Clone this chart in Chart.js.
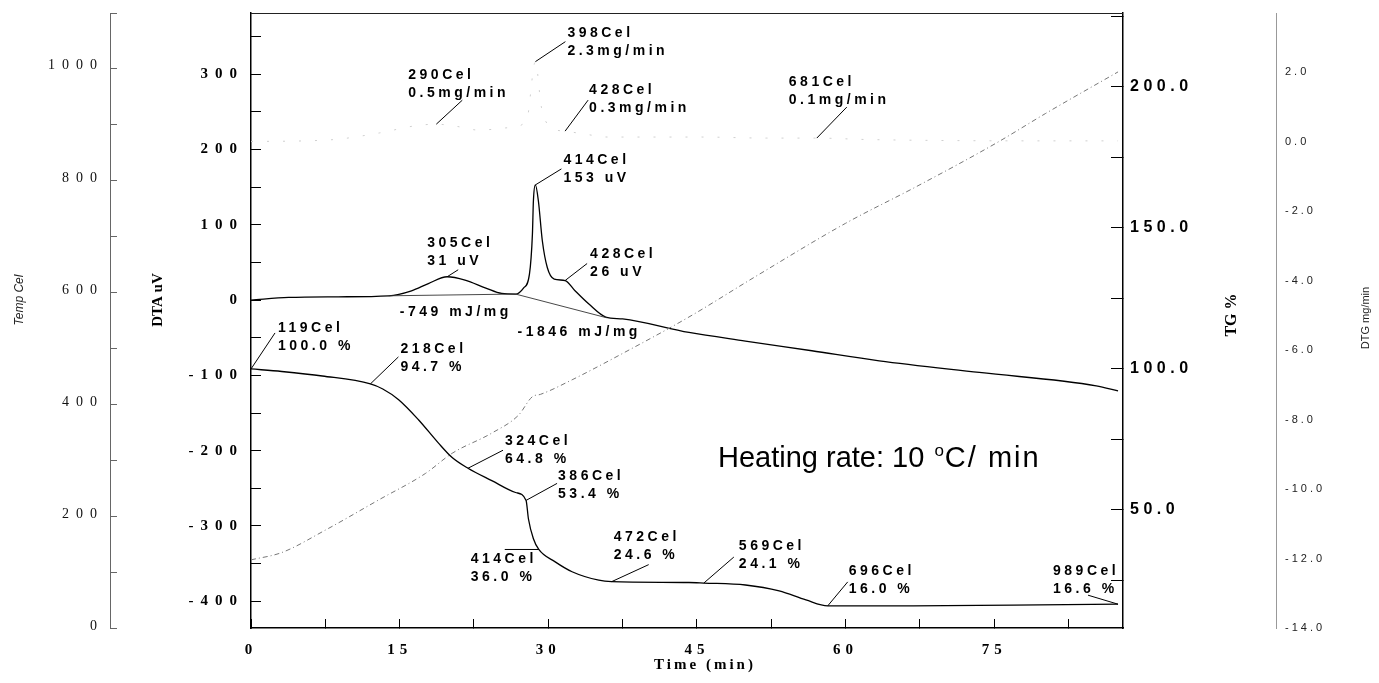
<!DOCTYPE html>
<html>
<head>
<meta charset="utf-8">
<script src="https://cdn.jsdelivr.net/npm/chart.js@4.4.0/dist/chart.umd.min.js"></script>
<style>
  html, body { margin: 0; padding: 0; background: #fff; }
  canvas { display: block; }
</style>
</head>
<body>
<canvas id="c" width="1379" height="683"></canvas>
<script>
// ---- DTA signal (uV) vs time (min) ----
const dtaTime = [0, 3.8, 8.8, 13.9, 16.2, 17.9, 19.8, 21.6, 23.7, 25.3, 26.7, 27.5, 28.1, 28.4, 28.5, 28.7, 29.0, 29.4, 29.9, 30.6, 31.7, 32.7, 34.1, 35.8, 37.5, 44.2, 49.9, 56.6, 63.4, 73.5, 85.3, 87.5];
const dtaUV   = [0, 3.5, 4.4, 5.7, 12.4, 22, 31, 26.6, 16, 8.8, 8, 16, 34.5, 87.6, 132, 153, 131.9, 78.8, 43.3, 27.9, 26, 12.4, -5.3, -22.5, -25, -43, -54.4, -67.3, -80.6, -96.1, -113.8, -120.5];

// Peak-integration baselines under the two DTA events
const base1Time = [13.9, 26.7];
const base1UV   = [5.7, 8];
const base2Time = [26.7, 35.9];
const base2UV   = [8, -23.5];

// ---- TG mass (%) vs time ----
const tgTime = [0, 3.1, 7.2, 12.05, 13.3, 14.9, 16.9, 18.9, 20.3, 21.9, 24.3, 26.7, 27.76, 28.0, 28.5, 29.04, 30.7, 32.4, 35.1, 36.4, 44.2, 45.7, 49.9, 53.3, 56.0, 58.2, 66.8, 76.9, 87.5];
const tgPct  = [100.0, 99.1, 97.5, 94.7, 92.9, 89.1, 82.0, 73.8, 68.6, 64.8, 60.4, 56.2, 53.4, 46.8, 39.8, 36.0, 31.6, 28.1, 25.1, 24.6, 24.3, 24.1, 23.4, 21.3, 18.1, 16.0, 16.0, 16.3, 16.6];

// ---- Sample temperature (Cel) vs time ----
const tempTime = [0, 3.1, 7.5, 12.9, 17.6, 20.3, 24.3, 27.0, 28.4, 29.2, 32.4, 37.5, 44.2, 50.9, 60.0, 67.1, 75.2, 80.2, 87.5];
const tempCel  = [119, 132, 172, 226, 273, 309, 345, 377, 410, 414, 440, 487, 552, 624, 719, 784, 862, 915, 989];

// ---- DTG rate (mg/min) vs time ----
const dtgTime = [0, 8, 13, 16.5, 18.7, 20.5, 23, 26, 27.8, 28.7, 29.3, 30.3, 31.7, 34, 36, 45.5, 52, 57.1, 62, 70, 80, 87.5];
const dtgRate = [0, 0.05, 0.25, 0.45, 0.5, 0.45, 0.33, 0.4, 0.6, 2.3, 1.0, 0.4, 0.3, 0.2, 0.13, 0.13, 0.1, 0.1, 0.06, 0.03, 0.02, 0.02];

// ---- Tick label sets ----
const timeLabels = [0, 15, 30, 45, 60, 75];
const dtaLabels  = [-400, -300, -200, -100, 0, 100, 200, 300];
const tempLabels = [0, 200, 400, 600, 800, 1000];
const tgLabels   = [50, 100, 150, 200];

// ---- Point annotations: [axis, time, value, line1, line2] ----
const notes = [
  ['yDTG', 28.7, 2.3, '398Cel', '2.3mg/min'],
  ['yDTG', 18.7, 0.5, '290Cel', '0.5mg/min'],
  ['yDTG', 31.7, 0.3, '428Cel', '0.3mg/min'],
  ['yDTG', 57.1, 0.1, '681Cel', '0.1mg/min'],
  ['yDTA', 28.7, 153, '414Cel', '153 uV'],
  ['yDTA', 19.8, 31, '305Cel', '31 uV'],
  ['yDTA', 31.7, 26, '428Cel', '26 uV'],
  ['yTG', 0, 100.0, '119Cel', '100.0 %'],
  ['yTG', 12.05, 94.7, '218Cel', '94.7 %'],
  ['yTG', 21.9, 64.8, '324Cel', '64.8 %'],
  ['yTG', 27.76, 53.4, '386Cel', '53.4 %'],
  ['yTG', 29.04, 36.0, '414Cel', '36.0 %'],
  ['yTG', 36.4, 24.6, '472Cel', '24.6 %'],
  ['yTG', 45.7, 24.1, '569Cel', '24.1 %'],
  ['yTG', 58.2, 16.0, '696Cel', '16.0 %'],
  ['yTG', 87.5, 16.6, '989Cel', '16.6 %']
];
// leader-line offset and text offset (px) from each annotated point
const noteLayout = [
  { lead: [30, -20], text: [32, -29] },
  { lead: [26, -24], text: [-28, -49] },
  { lead: [23, -31], text: [24, -41] },
  { lead: [30, -31], text: [-28, -56] },
  { lead: [26, -16], text: [28, -25] },
  { lead: [11, -7],  text: [-20, -34] },
  { lead: [22, -17], text: [25, -26] },
  { lead: [24, -36], text: [27, -41] },
  { lead: [28, -27], text: [30, -35] },
  { lead: [35, -18], text: [37, -27] },
  { lead: [31, -17], text: [32, -24] },
  { lead: [-34, 0],  text: [-68, 10] },
  { lead: [37, -17], text: [2, -44] },
  { lead: [30, -26], text: [35, -37] },
  { lead: [20, -24], text: [21, -35] },
  { lead: [-30, -9], text: [-65, -33] }
];
// peak-area labels anchored at the start of each baseline
const areaNotes = [
  { t: base1Time[0], v: base1UV[0], text: '-749 mJ/mg',  dx: 11, dy: 16 },
  { t: base2Time[0], v: base2UV[0], text: '-1846 mJ/mg', dx: 2,  dy: 38 }
];

const pts = (xs, ys) => xs.map((x, i) => ({ x, y: ys[i] }));
const near = (v, list) => list.some(l => Math.abs(l - v) < 1e-6);

const SERIF = '"Liberation Serif", "DejaVu Serif", serif';
const SANS = '"Liberation Sans", Arial, sans-serif';

// per-axis letter spacing for tick labels
const tickSpacing = { x: '5px', yDTA: '7px', yTG: '4.5px', yDTG: '3px' };

const spacingPlugin = {
  id: 'tickSpacing',
  afterLayout(chart) {
    Object.values(chart.scales).forEach(s => {
      if (s._spacedLabels) return;
      const orig = s.drawLabels;
      const ls = tickSpacing[s.id] || '0px';
      s.drawLabels = function (area) {
        const c = this.ctx;
        c.save();
        c.letterSpacing = ls;
        orig.call(this, area);
        c.restore();
      };
      s._spacedLabels = true;
    });
  }
};

// fixed axis box sizes, no extra label padding around the plot area
const fixWidth = w => s => { s.width = w; s.paddingTop = 0; s.paddingBottom = 0; };

const decorPlugin = {
  id: 'decor',
  afterDatasetsDraw(chart) {
    const ctx = chart.ctx;
    const a = chart.chartArea;
    const sx = chart.scales.x;

    // top edge of the frame
    ctx.save();
    ctx.strokeStyle = '#222';
    ctx.lineWidth = 1;
    ctx.beginPath();
    ctx.moveTo(a.left, a.top + 0.5);
    ctx.lineTo(a.right, a.top + 0.5);
    ctx.stroke();
    ctx.restore();

    // temperature scale labels (outer left axis)
    const st = chart.scales.yTemp;
    ctx.save();
    ctx.font = '14px ' + SERIF;
    ctx.letterSpacing = '7px';
    ctx.fillStyle = '#111';
    ctx.textAlign = 'right';
    ctx.textBaseline = 'middle';
    tempLabels.forEach(v => {
      ctx.fillText(String(v), st.right - 6, st.getPixelForValue(v));
    });
    ctx.restore();

    // point annotations with leader lines
    ctx.save();
    ctx.fillStyle = '#000';
    ctx.strokeStyle = '#000';
    ctx.lineWidth = 1;
    ctx.font = 'bold 14px ' + SANS;
    ctx.letterSpacing = '3.5px';
    ctx.textBaseline = 'middle';
    ctx.textAlign = 'left';
    notes.forEach((n, i) => {
      const [axis, t, v, l1, l2] = n;
      const lay = noteLayout[i];
      const px = sx.getPixelForValue(t);
      const py = chart.scales[axis].getPixelForValue(v);
      ctx.beginPath();
      ctx.moveTo(px, py);
      ctx.lineTo(px + lay.lead[0], py + lay.lead[1]);
      ctx.stroke();
      const tx = px + lay.text[0];
      const ty = py + lay.text[1];
      ctx.fillText(l1, tx, ty);
      ctx.fillText(l2, tx, ty + 18);
    });
    areaNotes.forEach(n => {
      const px = sx.getPixelForValue(n.t);
      const py = chart.scales.yDTA.getPixelForValue(n.v);
      ctx.fillText(n.text, px + n.dx, py + n.dy);
    });
    ctx.restore();

    // heating-rate caption
    ctx.save();
    ctx.fillStyle = '#000';
    ctx.textBaseline = 'alphabetic';
    ctx.font = '29px ' + SANS;
    const hx = a.left + 467, hy = 467;
    const part1 = 'Heating rate: 10 ';
    ctx.fillText(part1, hx, hy);
    let w = ctx.measureText(part1).width;
    ctx.font = '17px ' + SANS;
    ctx.fillText('o', hx + w + 2, hy - 11);
    w += ctx.measureText('o').width + 3;
    ctx.font = '29px ' + SANS;
    ctx.letterSpacing = '2px';
    ctx.fillText('C/ min', hx + w, hy);
    ctx.restore();

    // axis titles
    const title = (text, x, y, font, rot, ls, color) => {
      ctx.save();
      ctx.translate(x, y);
      if (rot) ctx.rotate(-Math.PI / 2);
      ctx.font = font;
      ctx.letterSpacing = ls || '0px';
      ctx.fillStyle = color || '#000';
      ctx.textAlign = 'center';
      ctx.textBaseline = 'middle';
      ctx.fillText(text, 0, 0);
      ctx.restore();
    };
    title('Temp Cel', 20, 300, 'italic 12px ' + SANS, true, '0px', '#222');
    title('DTA uV', 158, 300, 'bold 15px ' + SERIF, true);
    title('TG %', 1232, 315, 'bold 16px ' + SERIF, true);
    title('DTG mg/min', 1366, 318, '11px ' + SANS, true, '0px', '#222');
    title('Time (min)', 705, 665, 'bold 15px ' + SERIF, false, '3px');
  }
};

new Chart(document.getElementById('c'), {
  type: 'line',
  data: {
    datasets: [
      { data: pts(tempTime, tempCel), yAxisID: 'yTemp', borderColor: '#777', borderWidth: 1, borderDash: [5, 3, 1, 3], cubicInterpolationMode: 'monotone' },
      { data: pts(dtgTime, dtgRate), yAxisID: 'yDTG', borderColor: '#cfcfcf', borderWidth: 1, borderDash: [2, 14], cubicInterpolationMode: 'monotone' },
      { data: pts(base1Time, base1UV), yAxisID: 'yDTA', borderColor: '#333', borderWidth: 0.9 },
      { data: pts(base2Time, base2UV), yAxisID: 'yDTA', borderColor: '#333', borderWidth: 0.9 },
      { data: pts(dtaTime, dtaUV), yAxisID: 'yDTA', borderColor: '#000', borderWidth: 1.3, cubicInterpolationMode: 'monotone' },
      { data: pts(tgTime, tgPct), yAxisID: 'yTG', borderColor: '#000', borderWidth: 1.3, cubicInterpolationMode: 'monotone' }
    ]
  },
  options: {
    responsive: false,
    animation: false,
    devicePixelRatio: 1,
    layout: { padding: { top: 13, left: 0, right: 0, bottom: 0 } },
    plugins: { legend: { display: false }, tooltip: { enabled: false } },
    elements: { point: { radius: 0 }, line: { tension: 0 } },
    scales: {
      x: {
        type: 'linear', position: 'bottom', min: 0, max: 88,
        afterFit(s) { s.height = 55; s.paddingLeft = 0; s.paddingRight = 0; },
        ticks: {
          stepSize: 7.5, includeBounds: false, autoSkip: false, maxRotation: 0, padding: 22,
          color: '#000', font: { family: SERIF, size: 15, weight: 'bold' },
          callback: v => near(v, timeLabels) ? String(v) : ''
        },
        grid: { drawOnChartArea: false, tickLength: -9, tickColor: '#000', tickWidth: 1 },
        border: { color: '#000', width: 1.5 }
      },
      yTemp: {
        type: 'linear', position: 'left', weight: 1, min: -2.5, max: 1094,
        afterFit: fixWidth(110),
        ticks: { stepSize: 100, includeBounds: false, autoSkip: false, display: false },
        grid: { drawOnChartArea: false, tickLength: -7, tickColor: '#666', tickWidth: 1 },
        border: { color: '#666', width: 1, dash: [5, 3] }
      },
      yDTA: {
        type: 'linear', position: 'left', weight: 0, min: -435.5, max: 381.3,
        afterFit: fixWidth(141),
        ticks: {
          stepSize: 50, includeBounds: false, autoSkip: false, padding: 17,
          color: '#000', font: { family: SERIF, size: 15, weight: 'bold' },
          callback: v => near(v, dtaLabels) ? String(v) : ''
        },
        grid: { drawOnChartArea: false, tickLength: -10, tickColor: '#000', tickWidth: 1 },
        border: { color: '#000', width: 1.5 }
      },
      yTG: {
        type: 'linear', position: 'right', weight: 0, min: 8.16, max: 226.2,
        afterFit: fixWidth(153),
        ticks: {
          stepSize: 25, includeBounds: false, autoSkip: false, padding: 19,
          color: '#000', font: { family: SANS, size: 16, weight: 'bold' },
          callback: v => near(v, tgLabels) ? v.toFixed(1) : ''
        },
        grid: { drawOnChartArea: false, tickLength: -12, tickColor: '#000', tickWidth: 1 },
        border: { color: '#000', width: 1.5 }
      },
      yDTG: {
        type: 'linear', position: 'right', weight: 1, min: -14, max: 3.7,
        afterFit: fixWidth(103),
        ticks: {
          stepSize: 2, includeBounds: false, autoSkip: false, padding: 9,
          color: '#222', font: { family: SANS, size: 11 },
          callback: v => v.toFixed(1)
        },
        grid: { drawOnChartArea: false, drawTicks: false },
        border: { color: '#999', width: 1, dash: [1, 4] }
      }
    }
  },
  plugins: [spacingPlugin, decorPlugin]
});
</script>
</body>
</html>
